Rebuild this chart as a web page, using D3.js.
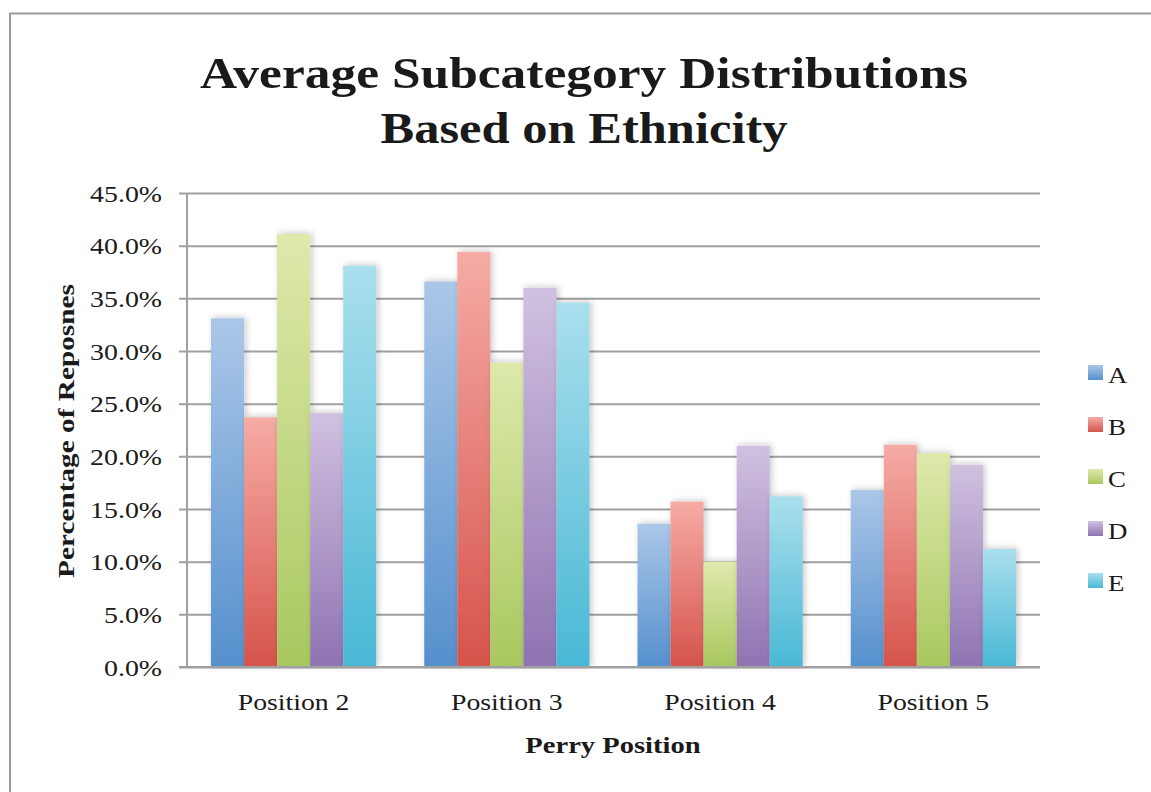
<!DOCTYPE html>
<html>
<head>
<meta charset="utf-8">
<script src="https://cdn.jsdelivr.net/npm/d3@7"></script>
<style>
  html, body { margin: 0; padding: 0; background: #fff; }
  svg { display: block; }
  text { font-family: "Liberation Serif", "DejaVu Serif", serif; fill: #1a1a1a; }
</style>
</head>
<body>
<svg id="chart" width="1151" height="792"></svg>
<script>
// Categories (Perry positions) and series (ethnicity groups)
const categories = ["Position 2", "Position 3", "Position 4", "Position 5"];
const seriesNames = ["A", "B", "C", "D", "E"];
// Average share of responses, in percent, per series across the categories
const seriesA = [33.1, 36.6, 13.6, 16.8];
const seriesB = [23.7, 39.4, 15.7, 21.1];
const seriesC = [41.1, 28.9, 10.0, 20.3];
const seriesD = [24.1, 36.0, 21.0, 19.2];
const seriesE = [38.1, 34.6, 16.2, 11.2];
const yTicks = [0, 5, 10, 15, 20, 25, 30, 35, 40, 45];
const titleLines = ["Average Subcategory Distributions", "Based on Ethnicity"];

const seriesValues = [seriesA, seriesB, seriesC, seriesD, seriesE];
// light (top) and dark (bottom) stops of each series' gradient
const colorTop = ["#abc7e8", "#f6aba5", "#dee9ab", "#d0c1e0", "#aadfed"];
const colorBottom = ["#5590cd", "#d5544c", "#a9c85f", "#8f73b2", "#49b8d5"];

const svg = d3.select("#chart");
const margin = { left: 187, right: 1040, top: 193, bottom: 667 };

// stretch text horizontally to give the serif a wider, Cambria-like set width
function widen(sel, k) {
  sel.each(function () {
    const len = this.getComputedTextLength();
    d3.select(this).attr("textLength", len * k).attr("lengthAdjust", "spacingAndGlyphs");
  });
}

const defs = svg.append("defs");
seriesNames.forEach((s, i) => {
  const g = defs.append("linearGradient")
    .attr("id", "grad" + s).attr("x1", 0).attr("y1", 0).attr("x2", 0).attr("y2", 1);
  g.append("stop").attr("offset", "0%").attr("stop-color", colorTop[i]);
  g.append("stop").attr("offset", "100%").attr("stop-color", colorBottom[i]);
});
const shadow = defs.append("filter").attr("id", "barShadow")
  .attr("x", "-30%").attr("y", "-10%").attr("width", "160%").attr("height", "120%");
shadow.append("feDropShadow").attr("dx", 2).attr("dy", -1)
  .attr("stdDeviation", 3).attr("flood-color", "#000").attr("flood-opacity", 0.22);

// outer frame
svg.append("rect").attr("x", 10).attr("y", 13.5).attr("width", 1200).attr("height", 900)
  .attr("fill", "none").attr("stroke", "#9a9a9a").attr("stroke-width", 2);

// scales
const x0 = d3.scaleBand().domain(categories).range([margin.left, margin.right]).padding(0);
const x1 = d3.scaleBand().domain(seriesNames).range([24, x0.bandwidth() - 24]).padding(0);
const y = d3.scaleLinear().domain([0, 45]).range([margin.bottom, margin.top]);

// gridlines with tick stubs
const yAxis = d3.axisLeft(y).tickValues(yTicks)
  .tickSize(-(margin.right - margin.left))
  .tickSizeOuter(0)
  .tickFormat(d => d.toFixed(1) + "%");
const yg = svg.append("g").attr("transform", `translate(${margin.left},0)`).call(yAxis);
yg.select(".domain").remove();
yg.selectAll(".tick line")
  .attr("x1", -8)
  .attr("stroke", "#a0a0a0").attr("stroke-width", 2);
yg.selectAll(".tick text")
  .attr("x", -25).attr("dy", "0.34em")
  .attr("font-size", 24).attr("fill", "#1a1a1a")
  .style("font-family", "'Liberation Serif', serif")
  .call(widen, 1.16);

// vertical axis line
svg.append("line")
  .attr("x1", margin.left).attr("x2", margin.left)
  .attr("y1", y(45)).attr("y2", y(0))
  .attr("stroke", "#a0a0a0").attr("stroke-width", 2);

// bars
const groups = svg.append("g").selectAll("g")
  .data(categories).join("g")
  .attr("transform", d => `translate(${x0(d)},0)`);
groups.selectAll("rect")
  .data((c, ci) => seriesNames.map((s, si) => ({ s, v: seriesValues[si][ci] })))
  .join("rect")
  .attr("x", d => x1(d.s))
  .attr("width", x1.bandwidth())
  .attr("y", d => y(d.v))
  .attr("height", d => y(0) - y(d.v))
  .attr("fill", d => `url(#grad${d.s})`)
  .attr("filter", "url(#barShadow)");

// horizontal axis line drawn over bar bottoms
svg.append("line")
  .attr("x1", margin.left - 8).attr("x2", margin.right)
  .attr("y1", y(0)).attr("y2", y(0))
  .attr("stroke", "#a0a0a0").attr("stroke-width", 2);

// category labels
const xAxis = d3.axisBottom(x0).tickSize(0);
const xg = svg.append("g").attr("transform", `translate(0,${y(0)})`).call(xAxis);
xg.select(".domain").remove();
xg.selectAll(".tick text")
  .attr("y", 43).attr("dy", 0)
  .attr("font-size", 24).attr("fill", "#1a1a1a")
  .style("font-family", "'Liberation Serif', serif")
  .call(widen, 1.155);

// axis titles
svg.append("text")
  .attr("x", 613).attr("y", 753)
  .attr("text-anchor", "middle")
  .attr("font-size", 24).attr("font-weight", "bold")
  .text("Perry Position")
  .call(widen, 1.19);
svg.append("text")
  .attr("transform", "translate(74,431) rotate(-90)")
  .attr("text-anchor", "middle")
  .attr("font-size", 24).attr("font-weight", "bold")
  .text("Percentage of Reposnes")
  .call(widen, 1.22);

// title
const titleWidths = [768, 407];
titleLines.forEach((t, i) => {
  svg.append("text")
    .attr("x", 584).attr("y", 88 + i * 55)
    .attr("text-anchor", "middle")
    .attr("font-size", 45).attr("font-weight", "bold")
    .attr("textLength", titleWidths[i]).attr("lengthAdjust", "spacingAndGlyphs")
    .text(t);
});

// legend
const legend = svg.append("g").selectAll("g")
  .data(seriesNames).join("g")
  .attr("transform", (d, i) => `translate(1088,${365 + i * 52})`);
legend.append("rect")
  .attr("width", 15).attr("height", 15)
  .attr("fill", d => `url(#grad${d})`);
legend.append("text")
  .attr("x", 20).attr("y", 18)
  .attr("font-size", 24)
  .text(d => d)
  .call(widen, 1.12);
</script>
</body>
</html>
